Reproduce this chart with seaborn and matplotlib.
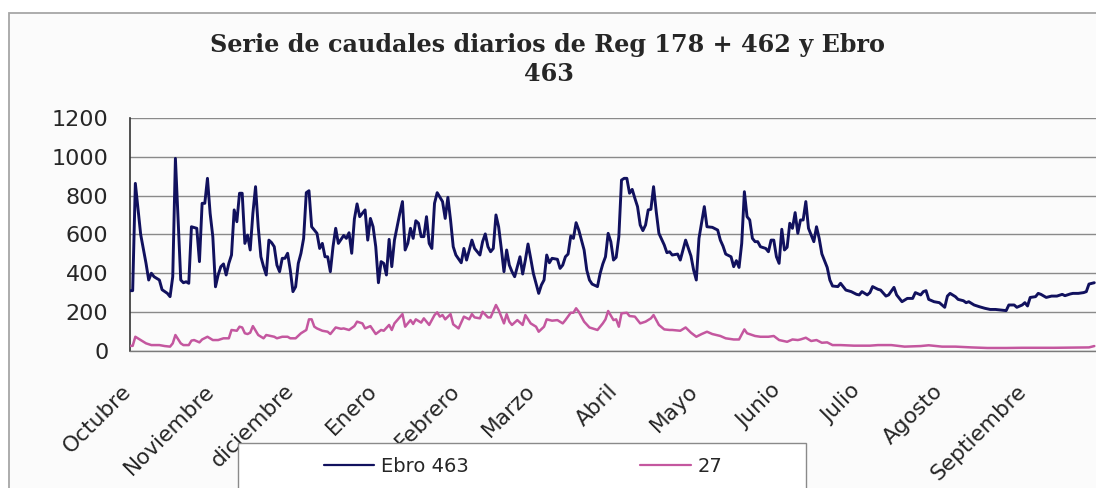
import pandas as pd
import seaborn as sns
import matplotlib.pyplot as plt
from matplotlib.patches import Rectangle
from matplotlib.lines import Line2D
from matplotlib import transforms

# dias desde el 1 de octubre y caudal diario (m3/s)
ebro_dias = [0, 1, 2, 4, 6, 7, 8, 9, 11, 12, 14, 15, 16, 17, 18, 19, 20, 21, 22, 23,
             25, 26, 27, 28, 29, 30, 31, 32, 33, 34, 35, 36, 37, 38, 39, 40, 41, 42, 43, 44,
             45, 46, 47, 48, 49, 50, 51, 52, 53, 54, 55, 56, 57, 58, 59,
             60, 61, 62, 63, 64, 65, 66, 67, 68, 70, 71, 72, 73, 74, 75, 76, 77, 78, 80, 81,
             82, 83, 84, 85, 86, 88, 89, 90, 91, 92, 93, 94, 95, 96, 97, 98, 99, 101, 102, 103,
             104, 105, 106, 107, 108, 109, 110, 111, 112, 113, 114, 115, 117, 118, 119, 120, 121, 122, 124, 125,
             126, 128, 129, 131,
             132, 133, 134, 135, 136, 137, 138, 139, 140, 141,
             142, 143, 144, 145, 146, 147, 148, 149, 150, 151,
             152, 153, 154, 155, 156, 157, 158, 160, 161, 162,
             163, 164, 165, 166, 167, 168, 170, 171, 172, 173,
             175, 176, 177, 178, 179, 180, 181, 182, 183, 184,
             185, 186, 187, 188, 189, 190, 191, 192, 193, 194,
             195, 196, 197, 198, 200, 201, 202, 203, 205, 206,
             207, 208, 210, 211, 212, 213, 215, 216, 218, 220,
             221, 222, 223, 225, 226, 227, 228, 229, 230, 231,
             232, 233, 234, 235, 236, 238, 239, 240, 241, 242,
             243, 244, 245, 246, 247, 248, 249, 250, 251, 252,
             253, 254, 256, 257, 258, 259, 261, 262, 263, 265,
             266, 268, 270, 272, 273, 274, 276, 277, 278, 280,
             281, 283, 284, 286, 287, 289, 291, 293, 294, 296,
             297, 298, 299, 301, 303, 305, 306, 307, 309, 310,
             312, 313, 314, 316, 318, 320, 322, 324, 326, 328,
             329, 331, 332, 334, 335, 336, 337, 339, 340, 341,
             343, 345, 347, 349, 350, 352, 353, 355, 357, 358,
             359, 361]
ebro_caudal = [310, 310, 864, 600, 451, 365, 400, 382, 365, 315, 296, 279, 382, 993, 675, 365, 351, 356, 348, 640,
               632, 460, 761, 761, 890, 709, 589, 330, 391, 434, 448, 391, 451, 494, 727, 666, 813, 813, 554, 597,
               520, 709, 847, 640, 485, 434, 391, 571, 558, 537, 442, 408, 477, 477, 503,
               416, 305, 330, 451, 503, 580, 816, 826, 640, 606, 528, 554, 485, 485, 408, 537, 632, 554, 595, 580,
               609, 503, 680, 758, 692, 727, 571, 683, 640, 537, 351, 460, 451, 391, 575, 434, 571, 709, 770, 520,
               554, 632, 580, 671, 658, 589, 589, 692, 554, 528, 761, 816, 770, 683, 792, 675, 537, 494, 454, 528,
               468, 571, 528, 494,
               563, 603, 537, 511, 528, 701, 640, 528, 408, 520,
               442, 408, 382, 434, 485, 396, 468, 551, 477, 399,
               348, 296, 339, 365, 494, 454, 477, 472, 425, 442,
               485, 499, 592, 580, 661, 623, 520, 416, 365, 344,
               331, 399, 448, 485, 606, 563, 468, 482, 589, 881,
               890, 890, 813, 833, 787, 744, 649, 620, 649, 727,
               730, 847, 718, 606, 546, 506, 511, 494, 499, 468,
               520, 571, 489, 416, 365, 580, 744, 640, 637, 623,
               571, 540, 499, 485, 434, 465, 430, 554, 821, 692,
               675, 580, 563, 563, 537, 528, 511, 571, 571, 485,
               451, 627, 520, 534, 658, 632, 713, 606, 675, 675,
               770, 632, 563, 640, 580, 500, 430, 365, 334, 331,
               348, 313, 305, 291, 288, 305, 288, 300, 331, 317,
               313, 282, 288, 327, 288, 253, 270, 270, 300, 288,
               305, 310, 265, 253, 248, 224, 282, 296, 279, 265,
               258, 248, 253, 236, 227, 219, 213, 213, 210, 207,
               236, 236, 224, 236, 248, 231, 275, 279, 296, 291,
               275, 282, 282, 291, 284, 293, 296, 296, 300, 305,
               344, 351]

s27_dias = [0, 1, 2, 4, 6, 8, 11, 13, 15, 16,
            17, 19, 20, 22, 23, 24, 26, 27, 29, 31,
            33, 35, 37, 38, 40, 41, 42, 43, 44, 45,
            46, 48, 50, 51, 54, 55, 57, 59, 60, 62,
            64, 66, 67, 68, 69, 70, 72, 74, 75, 77,
            79, 80, 82, 84, 85, 87, 88, 90, 91, 92,
            94, 95, 97, 98, 99, 102, 103, 105, 106, 107,
            109, 110, 112, 114, 115, 116, 117, 118, 120, 121,
            123, 125, 127, 128, 129, 131, 132, 134, 135, 137,
            138, 140, 141, 142, 143, 145, 147, 148, 150, 152,
            153, 155, 156, 158, 160, 162, 163, 165, 166, 167,
            168, 170, 172, 175, 177, 178, 179, 181, 182, 183,
            184, 186, 187, 189, 191, 193, 195, 196, 198, 200,
            202, 203, 206, 208, 210, 212, 214, 216, 218, 221,
            223, 226, 228, 230, 231, 234, 236, 239, 241, 243,
            246, 248, 250, 251, 253, 255, 257, 259, 261, 263,
            266, 271, 277, 280, 285, 290, 296, 299, 304, 309,
            315, 321, 328, 334, 346, 359, 361]
s27_caudal = [25, 25, 72, 55, 38, 29, 29, 24, 21, 38,
              81, 38, 29, 29, 52, 55, 43, 58, 72, 55,
              55, 64, 64, 107, 103, 124, 120, 90, 86, 93,
              127, 81, 64, 81, 72, 64, 72, 72, 64, 64,
              90, 107, 162, 162, 124, 115, 103, 98, 86, 120,
              113, 115, 107, 127, 150, 141, 115, 127, 107, 86,
              107, 103, 133, 107, 141, 189, 124, 158, 138, 162,
              145, 167, 133, 184, 198, 176, 184, 162, 189, 136,
              115, 176, 162, 189, 172, 167, 201, 172, 172, 236,
              210, 141, 189, 150, 133, 158, 133, 184, 141, 124,
              98, 124, 162, 155, 158, 141, 158, 196, 196, 219,
              201, 150, 120, 107, 141, 162, 205, 158, 162, 124,
              193, 196, 179, 176, 141, 150, 167, 184, 133, 110,
              107, 107, 103, 120, 93, 72, 86, 98, 86, 76,
              64, 58, 58, 110, 90, 76, 72, 72, 76, 55,
              46, 58, 55, 58, 67, 50, 55, 41, 43, 29,
              29, 26, 26, 29, 29, 21, 24, 28, 21, 21,
              17, 14, 14, 15, 15, 17, 24]

meses = ["Octubre", "Noviembre", "diciembre", "Enero", "Febrero", "Marzo",
         "Abril", "Mayo", "Junio", "Julio", "Agosto", "Septiembre"]
inicio_mes = [0, 31, 61, 92, 123, 151, 182, 212, 243, 273, 304, 335]

c_ebro = "#11115e"
c_27 = "#c4579f"

df_ebro = pd.DataFrame({"dia": ebro_dias, "caudal": ebro_caudal})
df_27 = pd.DataFrame({"dia": s27_dias, "caudal": s27_caudal})

sns.set_style("white")
plt.rcParams['font.family'] = ['DejaVu Sans']

W, H = 1096, 488
fig = plt.figure(figsize=(W / 100, H / 100), dpi=100)
fig.patch.set_facecolor("white")
# marco del grafico
fig.patches.append(Rectangle((9 / W, -0.1), 1.0, 1.1 - 13 / H, transform=fig.transFigure,
                             facecolor="#fbfbfb", edgecolor="#a6a6a6", lw=1.3, zorder=-1))

ax = fig.add_axes([130 / W, 1 - 350.7 / H, (1105 - 130) / W, (350.7 - 118.3) / H])
ax.set_facecolor("none")

sns.lineplot(data=df_27, x="dia", y="caudal", ax=ax, color=c_27, lw=1.8,
             estimator=None, sort=False, zorder=3)
sns.lineplot(data=df_ebro, x="dia", y="caudal", ax=ax, color=c_ebro, lw=2.1,
             estimator=None, sort=False, zorder=4)

ax.set_xlim(0, 365)
ax.set_ylim(0, 1200)
ax.set_xlabel("")
ax.set_ylabel("")
ax.set_yticks(range(0, 1201, 200))
ax.yaxis.grid(True, color="#8a8a8a", lw=1.0)
ax.set_axisbelow(True)

# una marca por dia, etiquetas al inicio de cada mes
ax.set_xticks(range(0, 366))
ax.set_xticklabels([])
ax.tick_params(axis="x", length=5.5, width=0.7, color="#6e6e6e", direction="out")
ax.tick_params(axis="y", length=6, width=1.0, color="#8a8a8a", labelsize=16, pad=9.5)
offset = transforms.ScaledTranslation(-9 / 100, -30 / 100, fig.dpi_scale_trans)
for d, m in zip(inicio_mes, meses):
    ax.text(d, 0, m, transform=ax.get_xaxis_transform() + offset, rotation=45,
            ha="right", va="top", rotation_mode="anchor", fontsize=15.6)

for s in ["top", "right"]:
    ax.spines[s].set_visible(False)
ax.spines["left"].set_color("#333333")
ax.spines["left"].set_linewidth(1.2)
ax.spines["bottom"].set_color("#7a7a7a")
ax.spines["bottom"].set_linewidth(1.0)

fig.text(547 / W, 1 - 52 / H, "Serie de caudales diarios de Reg 178 + 462 y Ebro",
         family="DejaVu Serif", weight="bold", fontsize=17.2, ha="center", va="baseline")
fig.text(549 / W, 1 - 81 / H, "463",
         family="DejaVu Serif", weight="bold", fontsize=17.2, ha="center", va="baseline")

# leyenda
fig.patches.append(Rectangle((238 / W, -0.1), (806 - 238) / W, 0.1 + (488 - 443) / H,
                             transform=fig.transFigure, facecolor="white",
                             edgecolor="#8a8a8a", lw=1.0, zorder=1))
handles = [Line2D([], [], color=c_ebro, lw=1.6), Line2D([], [], color=c_27, lw=1.6)]
fig.legend(handles, ["Ebro 463", "27"], ncol=2, loc="center",
           bbox_to_anchor=(523 / W, 1 - 466 / H), frameon=False, fontsize=14,
           handlelength=2.6, handletextpad=0.36, columnspacing=8.8)

fig.savefig("out.png", dpi=100)
